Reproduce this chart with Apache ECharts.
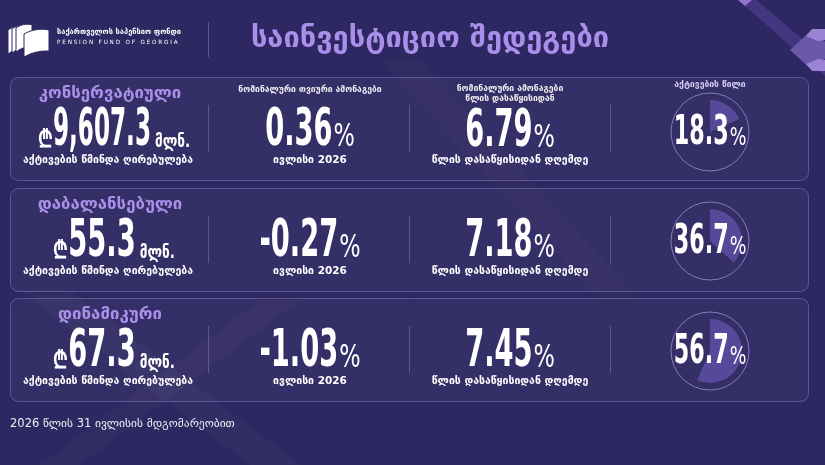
<!DOCTYPE html>
<html><head><meta charset="utf-8">
<script src="https://cdn.jsdelivr.net/npm/echarts@6/dist/echarts.min.js"></script>
<style>html,body{margin:0;padding:0;background:#2e2862;}#c{width:825px;height:465px;}</style>
</head><body><div id="c"></div>
<script>
// ---------- data ----------
const fundNames = ['კონსერვატიული', 'დაბალანსებული', 'დინამიკური'];
const netAssetsMln = [9607.3, 55.3, 67.3];
const monthlyReturnPct = [0.36, -0.27, -1.03];
const ytdReturnPct = [6.79, 7.18, 7.45];
const assetSharePct = [18.3, 36.7, 56.7];

// ---------- texts ----------
const titleText = 'საინვესტიციო შედეგები';
const orgNameKa = 'საქართველოს საპენსიო ფონდი';
const orgNameEn = 'PENSION FUND OF GEORGIA';
const netAssetsLabel = 'აქტივების წმინდა ღირებულება';
const monthlyHeader = 'ნომინალური თვიური ამონაგები';
const monthLabel = 'ივლისი 2026';
const ytdHeader = ['ნომინალური ამონაგები', 'წლის დასაწყისიდან'];
const ytdLabel = 'წლის დასაწყისიდან დღემდე';
const shareHeader = 'აქტივების წილი';
const currencySign = '₾';
const unitLabel = 'მლნ.';
const footnote = '2026 წლის 31 ივლისის მდგომარეობით';

// ---------- layout ----------
const rowTop = [77, 188, 298];
const rowH = 103;
const colX = [108, 310, 510, 710];
const circleOffset = [55, 53, 53];
const NUMF = "'Liberation Sans Narrow','Arial Narrow','DejaVu Sans Condensed',sans-serif";
const GEOF = "'DejaVu Sans',sans-serif";
const LAV = '#a98fea';

const mctx = document.createElement('canvas').getContext('2d');
function tw(text, size, weight, family) { mctx.font = weight + ' ' + size + 'px ' + family; return mctx.measureText(text).width; }

const g = [];
function poly(pts, fill, z, stroke) { g.push({type: 'polygon', silent: true, z: z || 0, shape: {points: pts}, style: {fill: fill, stroke: stroke || null, lineWidth: 1}}); }
function line(x1, y1, x2, y2, color) { g.push({type: 'line', silent: true, z: 1, shape: {x1, y1, x2, y2}, style: {stroke: color, lineWidth: 1}}); }
function text(txt, x, y, size, o) {
  o = o || {};
  g.push({type: 'text', x: x, y: y, z: 100, silent: true, scaleX: o.sx || 1,
    style: {text: txt, x: 0, y: 0, fill: o.color || '#ffffff', opacity: o.opacity == null ? 1 : o.opacity,
      font: (o.weight || 'bold') + ' ' + size + 'px ' + (o.family || GEOF),
      textAlign: o.align || 'center', textVerticalAlign: 'middle'}});
}
function valueRow(parts, cx, B) {
  let total = 0;
  parts.forEach((p, i) => { p.w = tw(p.text, p.size, p.weight, p.family) * p.sx; total += p.w + (i ? (p.gap || 0) : 0); });
  let x = cx - total / 2;
  parts.forEach((p, i) => {
    if (i) x += p.gap || 0;
    g.push({type: 'text', x: x, y: B - 0.31 * p.size, scaleX: p.sx, z: 100, silent: true,
      style: {text: p.text, x: 0, y: 0, fill: '#ffffff', font: p.weight + ' ' + p.size + 'px ' + p.family,
        textAlign: 'left', textVerticalAlign: 'middle'}});
    x += p.w;
  });
}
function quad(p0, p1, p2, n) {
  const out = [];
  for (let k = 0; k <= n; k++) {
    const t = k / n, a = (1 - t) * (1 - t), b = 2 * (1 - t) * t, c = t * t;
    out.push([a * p0[0] + b * p1[0] + c * p2[0], a * p0[1] + b * p1[1] + c * p2[1]]);
  }
  return out;
}
function page(x0, y0, w, h, lift) {
  const top = quad([x0, y0], [x0 + w * 0.45, y0 - lift * 1.3], [x0 + w, y0 - lift * 0.8], 10);
  const bottom = quad([x0 + w, y0 - lift * 0.8 + h], [x0 + w * 0.45, y0 - lift * 0.9 + h], [x0, y0 + h + 2], 10);
  poly(top.concat(bottom), '#ffffff', 2, '#2e2862');
}

// background decorations
poly([[20, 290], [70, 290], [300, 465], [250, 465]], 'rgba(255,255,255,0.022)');
poly([[260, 300], [300, 300], [80, 465], [40, 465]], 'rgba(255,255,255,0.018)');
poly([[380, 60], [420, 60], [640, 300], [600, 300]], 'rgba(255,255,255,0.015)');
poly([[738, 0], [756, 0], [825, 58], [825, 76]], '#443580');
poly([[812, 30], [834, 50], [812, 70], [790, 50]], '#6a58a8');
poly([[806, 36], [812, 29], [825, 29], [825, 40], [818, 41]], '#9c83d6');
poly([[806, 64], [812, 71], [825, 71], [825, 60], [818, 59]], '#9c83d6');
poly([[738, 0], [752, 0], [745, 6]], '#8f74cc');

// header: logo
page(8, 30, 16, 22, 4);
page(12, 29, 16, 22, 4);
page(16, 28, 16, 22, 4);
page(24, 34, 25, 21, 5);
text(orgNameKa, 57, 32, 7.5, {align: 'left'});
text(orgNameEn.split('').join(' '), 57, 43, 5.7, {align: 'left', weight: 'normal'});
line(208.5, 22, 208.5, 57, 'rgba(255,255,255,0.22)');
text(titleText, 430, 39, 29, {color: LAV});

// cards
rowTop.forEach((t, i) => {
  g.push({type: 'rect', silent: true, z: 1, shape: {x: 10.5, y: t + 0.5, width: 798, height: rowH, r: 8},
    style: {fill: 'rgba(255,255,255,0.035)', stroke: 'rgba(190,170,255,0.32)', lineWidth: 1}});
  [208.5, 409.5, 610.5].forEach(x => line(x, t + 28, x, t + 75, 'rgba(255,255,255,0.2)'));
});

// headers (first row only)
text(monthlyHeader, colX[1], 90, 8.6, {opacity: 0.92});
text(ytdHeader[0], colX[2], 89, 8.6, {opacity: 0.92});
text(ytdHeader[1], colX[2], 99, 8.6, {opacity: 0.92});
text(shareHeader, colX[3], 85, 8.6, {opacity: 0.92, color: '#e4dcff'});

const digitTarget = 19;
rowTop.forEach((t, i) => {
  const B = t + 71;
  const baseSx = digitTarget / tw('0', 52, 'bold', NUMF);
  // col 1
  text(fundNames[i], colX[0] + 2, t + 17, 16.8, {color: LAV});
  const num = netAssetsMln[i].toLocaleString('en-US', {minimumFractionDigits: 1, maximumFractionDigits: 1});
  const nsx = Math.min(baseSx, 98 / tw(num, 52, 'bold', NUMF));
  valueRow([
    {text: currencySign, size: 24, weight: 'bold', family: GEOF, sx: 0.8},
    {text: num, size: 52, weight: 'bold', family: NUMF, sx: nsx, gap: 0},
    {text: unitLabel, size: 17, weight: 'bold', family: GEOF, sx: 0.8, gap: 4}
  ], colX[0] + 6, B);
  text(netAssetsLabel, colX[0], t + 83, 10.5, {});
  // col 2
  valueRow([
    {text: monthlyReturnPct[i].toFixed(2), size: 52, weight: 'bold', family: NUMF, sx: baseSx},
    {text: '%', size: 32, weight: 'normal', family: NUMF, sx: 0.78, gap: 1}
  ], colX[1], B);
  text(monthLabel, colX[1], t + 83, 10.5, {});
  // col 3
  valueRow([
    {text: ytdReturnPct[i].toFixed(2), size: 52, weight: 'bold', family: NUMF, sx: baseSx},
    {text: '%', size: 32, weight: 'normal', family: NUMF, sx: 0.78, gap: 1}
  ], colX[2], B + (i === 0 ? 1 : 0));
  text(ytdLabel, colX[2], t + 83, 10.5, {});
  // col 4
  const cy = t + circleOffset[i];
  g.push({type: 'circle', silent: true, z: 50, shape: {cx: colX[3], cy: cy, r: 39},
    style: {fill: null, stroke: 'rgba(200,180,255,0.55)', lineWidth: 1}});
  const ssx = 15.5 / tw('0', 40, 'bold', NUMF);
  valueRow([
    {text: assetSharePct[i].toFixed(1), size: 40, weight: 'bold', family: NUMF, sx: ssx},
    {text: '%', size: 25, weight: 'normal', family: NUMF, sx: 0.78, gap: 1}
  ], colX[3], cy + 14);
});

text(footnote, 10, 424, 11.5, {align: 'left', weight: 'normal', opacity: 0.92});

const chart = echarts.init(document.getElementById('c'), null, {renderer: 'canvas', width: 825, height: 465});
chart.setOption({
  backgroundColor: '#2e2862',
  animation: false,
  graphic: {elements: g},
  series: assetSharePct.map((v, i) => ({
    type: 'pie', center: [colX[3], rowTop[i] + circleOffset[i]], radius: [0, 32],
    startAngle: 90, clockwise: true, silent: true, z: 10,
    label: {show: false}, labelLine: {show: false}, emphasis: {disabled: true},
    itemStyle: {borderWidth: 0},
    data: [{value: v, itemStyle: {color: '#57489a'}}, {value: 100 - v, itemStyle: {color: 'rgba(0,0,0,0)'}}]
  }))
});
</script></body></html>
